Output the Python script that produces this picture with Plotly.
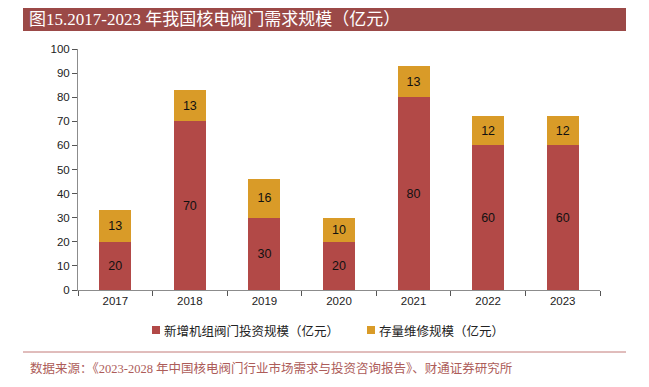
import plotly.graph_objects as go

years = ["2017", "2018", "2019", "2020", "2021", "2022", "2023"]
new_units = [20, 70, 30, 20, 80, 60, 60]
maintenance = [13, 13, 16, 10, 13, 12, 12]
name_new = "新增机组阀门投资规模（亿元）"
name_maint = "存量维修规模（亿元）"
title_text = "图15.2017-2023 年我国核电阀门需求规模（亿元）"
source_text = "数据来源：《2023-2028 年中国核电阀门行业市场需求与投资咨询报告》、财通证券研究所"

c_new = "#B24947"
c_maint = "#D99B28"

L, R, T, B = 78, 49, 49, 97
W, H = 649, 387
pw, ph = W - L - R, H - T - B

def px_x(x):
    return (x - L) / pw

def px_y(y):
    return (H - B - y) / ph

fig = go.Figure()
fig.add_trace(go.Bar(
    x=years, y=new_units, name=name_new,
    marker=dict(color=c_new, line=dict(width=0)),
    text=new_units, textposition="inside", insidetextanchor="middle",
    textfont=dict(color="#111111", size=12.5, family="Liberation Sans, Arial"),
))
fig.add_trace(go.Bar(
    x=years, y=maintenance, name=name_maint,
    marker=dict(color=c_maint, line=dict(width=0)),
    text=maintenance, textposition="inside", insidetextanchor="middle",
    textfont=dict(color="#111111", size=12.5, family="Liberation Sans, Arial"),
))

fig.update_layout(
    barmode="stack",
    bargap=0.57,
    width=W, height=H,
    margin=dict(l=L, r=R, t=T, b=B, autoexpand=False),
    paper_bgcolor="white", plot_bgcolor="white",
    font=dict(family="Liberation Sans, Arial, Noto Sans CJK SC", size=11.5, color="#222222"),
    showlegend=False,
    uniformtext=dict(minsize=8, mode="show"),
)

fig.update_xaxes(
    type="category", range=[-0.5, 6.5],
    showline=True, linecolor="#8C8C8C", linewidth=1,
    ticks="outside", tickson="boundaries", ticklen=5, tickcolor="#555555",
    showgrid=False, tickfont=dict(size=11.5, color="#222222"),
)
fig.update_yaxes(
    range=[0, 100], dtick=10,
    showline=True, linecolor="#8C8C8C", linewidth=1,
    ticks="outside", ticklen=5, tickcolor="#555555",
    showgrid=False, zeroline=False, tickfont=dict(size=11.5, color="#222222"),
)

# title bar
fig.add_shape(type="rect", xref="paper", yref="paper",
              x0=px_x(23), x1=px_x(626), y0=px_y(31), y1=px_y(8),
              fillcolor="#9B4947", line=dict(width=0), layer="below")
fig.add_annotation(xref="paper", yref="paper", x=px_x(27), y=px_y(19.5),
                   xanchor="left", yanchor="middle", showarrow=False,
                   text=title_text,
                   font=dict(family="Liberation Serif, Noto Sans CJK SC", size=17, color="white"))

# legend (drawn as swatches + text)
leg_font = dict(family="Noto Sans CJK SC", size=12.5, color="#222222")
for sx, tx, col, name in [(152, 162, c_new, name_new), (367, 377, c_maint, name_maint)]:
    fig.add_shape(type="rect", xref="paper", yref="paper",
                  x0=px_x(sx), x1=px_x(sx + 8), y0=px_y(334), y1=px_y(326),
                  fillcolor=col, line=dict(width=0))
    fig.add_annotation(xref="paper", yref="paper", x=px_x(tx), y=px_y(330),
                       xanchor="left", yanchor="middle", showarrow=False,
                       text=name, font=leg_font)

# source line and text
fig.add_shape(type="line", xref="paper", yref="paper",
              x0=px_x(23), x1=px_x(626), y0=px_y(352), y1=px_y(352),
              line=dict(color="#C27B78", width=1))
fig.add_annotation(xref="paper", yref="paper", x=px_x(28), y=px_y(368),
                   xanchor="left", yanchor="middle", showarrow=False,
                   text=source_text,
                   font=dict(family="Liberation Serif, Noto Sans CJK SC", size=12.5, color="#AD5C59"))

fig.write_html("out.html", config={"displayModeBar": False},
               post_script="document.body.style.margin='0';")
